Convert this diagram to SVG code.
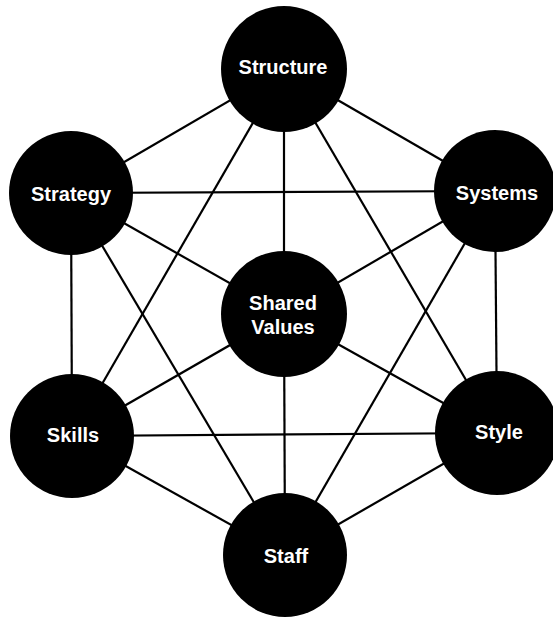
<svg xmlns="http://www.w3.org/2000/svg" width="553" height="617" viewBox="0 0 553 617">
  <style>
    .link { stroke: #000; stroke-width: 2.2; fill: none; }
    .node circle { fill: #000; }
    .node text { fill: #fff; font-family: "Liberation Sans", Arial, sans-serif; font-weight: bold; font-size: 20px; text-anchor: middle; }
  </style>
  <rect width="553" height="617" fill="#fff"/>
  <g id="connectors">
    <!-- outer hexagon -->
    <line class="link" x1="284" y1="69" x2="71" y2="193"/>
    <line class="link" x1="284" y1="69" x2="495" y2="191"/>
    <line class="link" x1="495" y1="191" x2="497" y2="433"/>
    <line class="link" x1="497" y1="433" x2="285" y2="555"/>
    <line class="link" x1="285" y1="555" x2="72" y2="436"/>
    <line class="link" x1="72" y1="436" x2="71" y2="193"/>
    <!-- spokes to the centre -->
    <line class="link" x1="284" y1="69" x2="284" y2="314"/>
    <line class="link" x1="71" y1="193" x2="284" y2="314"/>
    <line class="link" x1="495" y1="191" x2="284" y2="314"/>
    <line class="link" x1="72" y1="436" x2="284" y2="314"/>
    <line class="link" x1="497" y1="433" x2="284" y2="314"/>
    <line class="link" x1="285" y1="555" x2="284" y2="314"/>
    <!-- cross links -->
    <line class="link" x1="71" y1="193" x2="495" y2="191"/>
    <line class="link" x1="72" y1="436" x2="497" y2="433"/>
    <line class="link" x1="284" y1="69" x2="72" y2="436"/>
    <line class="link" x1="284" y1="69" x2="497" y2="433"/>
    <line class="link" x1="71" y1="193" x2="285" y2="555"/>
    <line class="link" x1="495" y1="191" x2="285" y2="555"/>
  </g>
  <g id="structure" class="node">
    <circle cx="284" cy="69" r="63"/>
    <text x="283" y="74">Structure</text>
  </g>
  <g id="strategy" class="node">
    <circle cx="71" cy="193" r="62"/>
    <text x="71" y="201">Strategy</text>
  </g>
  <g id="systems" class="node">
    <circle cx="495" cy="191" r="61"/>
    <text x="497" y="200">Systems</text>
  </g>
  <g id="shared-values" class="node">
    <circle cx="284" cy="314" r="63"/>
    <text x="283" y="310">Shared</text>
    <text x="283" y="334">Values</text>
  </g>
  <g id="skills" class="node">
    <circle cx="72" cy="436" r="62"/>
    <text x="73" y="442">Skills</text>
  </g>
  <g id="style" class="node">
    <circle cx="497" cy="433" r="62"/>
    <text x="499" y="439">Style</text>
  </g>
  <g id="staff" class="node">
    <circle cx="285" cy="555" r="62"/>
    <text x="286" y="563">Staff</text>
  </g>
</svg>
